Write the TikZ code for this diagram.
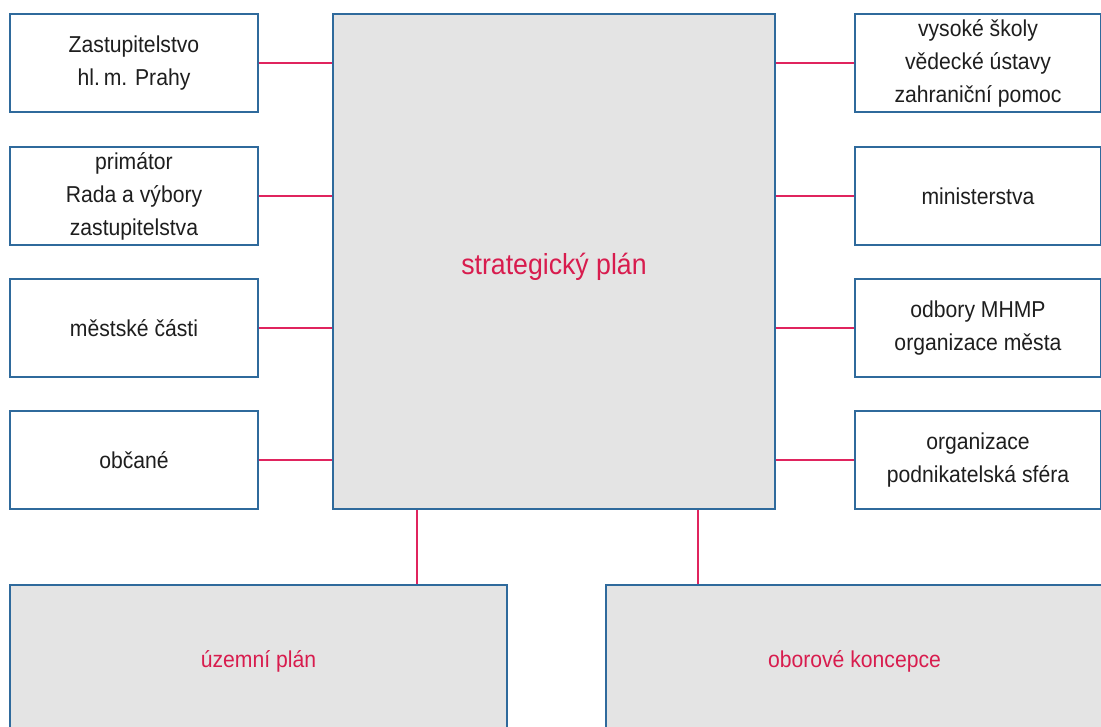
\documentclass[tikz,border=0pt]{standalone}
\usepackage{fontspec}
\setmainfont{Liberation Sans}[FakeStretch=0.92]
\usepackage{tikz}
\usetikzlibrary{positioning, calc}
\definecolor{modra}{HTML}{2F6A9C}
\definecolor{seda}{HTML}{E4E4E4}
\definecolor{cervena}{HTML}{E0245E}
\definecolor{cervtext}{HTML}{D81C4E}
\definecolor{cerna}{HTML}{1E1E1E}

\begin{document}
\begin{tikzpicture}[x=1pt, y=-1pt,
            ramec/.style={rectangle, draw=modra, line width=1.6pt, fill=white, minimum width=248pt, minimum height=98pt, align=center, text=cerna, font=\fontsize{23}{33}\selectfont},
            hlavni/.style={rectangle, draw=modra, line width=1.6pt, fill=seda, align=center, text=cervtext},
            spoj/.style={draw=cervena, line width=1.6pt}
        ]
            \useasboundingbox (0,0) rectangle (1101,726);

            % Strategicky plan
            \node[hlavni, minimum width=442pt, minimum height=495pt, font=\fontsize{29}{33}\selectfont] (sp) at (554, 261.5) {\raisebox{-5pt}[\height][\depth]{strategický plán}};

            % Levy sloupec
            \node[ramec] (zast) at (134, 63) {Zastupitelstvo\\hl.\,m. Prahy};
            \node[ramec] (rada) at (134, 196) {primátor\\Rada a výbory\\zastupitelstva};
            \node[ramec] (mc) at (134, 328) {městské části};
            \node[ramec] (obcane) at (134, 460) {občané};

            % Pravy sloupec
            \node[ramec, minimum width=246pt] (vs) at (978, 63) {vysoké školy\\vědecké ústavy\\zahraniční pomoc};
            \node[ramec, minimum width=246pt] (min) at (978, 196) {ministerstva};
            \node[ramec, minimum width=246pt] (odbory) at (978, 328) {odbory MHMP\\organizace města};
            \node[ramec, minimum width=246pt] (org) at (978, 460) {organizace\\podnikatelská sféra};

            % Spodni boxy
            \node[hlavni, minimum width=497pt, minimum height=152pt, font=\fontsize{23}{33}\selectfont] (up) at (258.5, 661) {územní plán};
            \node[hlavni, minimum width=497pt, minimum height=152pt, font=\fontsize{23}{33}\selectfont] (ok) at (854.5, 661) {oborové koncepce};

            % Spojnice vlevo
            \draw[spoj] (zast.east) -- (zast.east -| sp.west);
            \draw[spoj] (rada.east) -- (rada.east -| sp.west);
            \draw[spoj] (mc.east) -- (mc.east -| sp.west);
            \draw[spoj] (obcane.east) -- (obcane.east -| sp.west);

            % Spojnice vpravo
            \draw[spoj] (vs.west) -- (vs.west -| sp.east);
            \draw[spoj] (min.west) -- (min.west -| sp.east);
            \draw[spoj] (odbory.west) -- (odbory.west -| sp.east);
            \draw[spoj] (org.west) -- (org.west -| sp.east);

            % Spojnice dolu
            \draw[spoj] ([xshift=85pt]sp.south west) coordinate (a) -- (a |- up.north);
            \draw[spoj] ([xshift=-78pt]sp.south east) coordinate (b) -- (b |- ok.north);

        \end{tikzpicture}
\end{document}
